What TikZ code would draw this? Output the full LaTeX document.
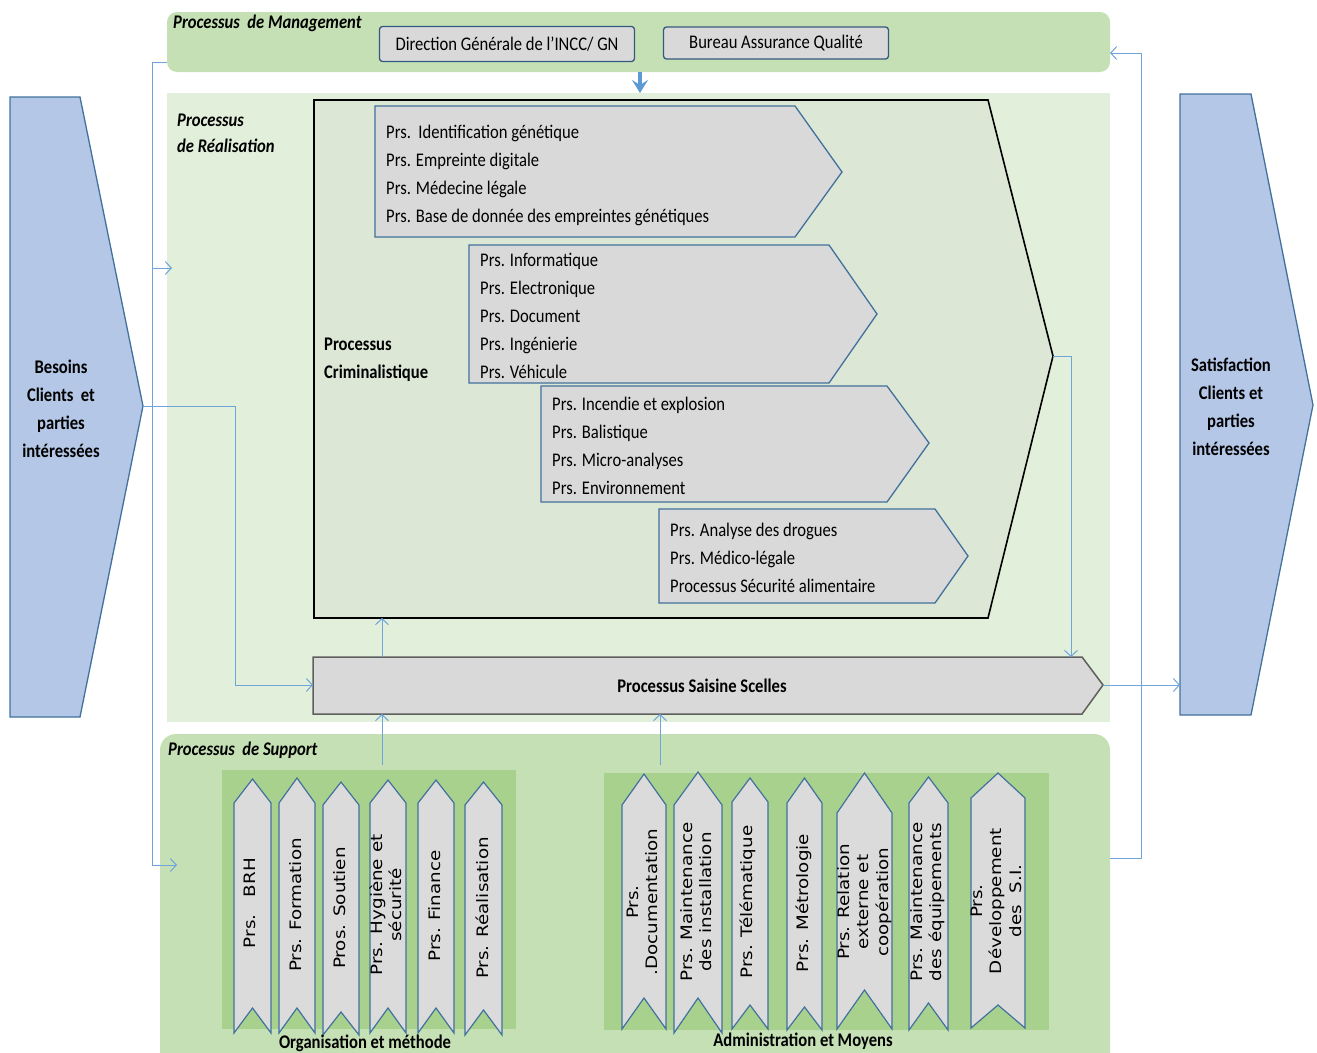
\documentclass[tikz,border=0pt]{standalone}
\usepackage{fontspec}
\usepackage{graphicx}
\setmainfont[FakeStretch=0.86]{Carlito}
\newfontfamily\chevfont{DejaVu Sans}
\usetikzlibrary{arrows.meta}
\definecolor{bandG}{HTML}{C5E0B4}
\definecolor{realG}{HTML}{E2EFDA}
\definecolor{crimG}{HTML}{DCE7D6}
\definecolor{boxGray}{HTML}{D9D9D9}
\definecolor{boxBlue}{HTML}{41719C}
\definecolor{arrBlue}{HTML}{B4C7E7}
\definecolor{grpG}{HTML}{A9D18E}
\definecolor{connC}{HTML}{6FA5DA}
\definecolor{downC}{HTML}{5B9BD5}
\definecolor{saiC}{HTML}{5F5F5F}
\newcommand\rtext[1]{\scalebox{0.86}[1]{\rotatebox{90}{\begin{tabular}{@{}c@{}}#1\end{tabular}}}}
\newcommand\vchev[6]{\draw[chevshape] (#1,#5) -- (#1,#4) -- ({(#1+#2)/2},#3) -- (#2,#4) -- (#2,#5) -- ({(#1+#2)/2},#6) -- cycle;}
\begin{document}
\begin{tikzpicture}[x=1pt,y=-1pt,
  lbl/.style={font=\fontsize{19.3}{28}\selectfont, inner sep=0pt, align=left, anchor=west},
  blbl/.style={font=\bfseries\fontsize{19.3}{28}\selectfont, inner sep=0pt, align=center},
  ilbl/.style={font=\bfseries\itshape\fontsize{19.3}{26}\selectfont, inner sep=0pt, align=left, anchor=west},
  pent/.style={draw=boxBlue, line width=1.3pt, fill=boxGray, line join=miter},
  bigarr/.style={draw=boxBlue, line width=1.3pt, fill=arrBlue},
  chevshape/.style={draw=boxBlue, line width=1.2pt, fill=boxGray!95!white},
  chevtext/.style={font=\chevfont\fontsize{18.3}{23}\selectfont, inner sep=0pt},
  mbox/.style={draw=boxBlue!80!black, line width=1.3pt, fill=boxGray, rounded corners=3pt, font=\fontsize{19.3}{23}\selectfont, inner sep=0pt},
  conn/.style={draw=connC, line width=1pt, -{Straight Barb[length=6pt,width=13pt]}},
  connplain/.style={draw=connC, line width=1pt}
]
\useasboundingbox (0,0) rectangle (1317,1052);
\begin{scope}
\clip (0,0) rectangle (1317,1052);
% bands
\fill[bandG, rounded corners=10pt] (167,12) rectangle (1110,72);
\fill[realG] (167,93) rectangle (1110,722);
\fill[bandG, rounded corners=16pt] (160,1080) -- (160,734) -- (1110,734) -- (1110,1080) -- cycle;
\fill[grpG] (222,770) rectangle (516,1029);
\fill[grpG] (604,773) rectangle (1049,1030);

% coordinates
\coordinate (mgL) at (167,62);
\coordinate (mgR) at (1110,53);
\coordinate (mgB) at (640,72);
\coordinate (realT) at (640,93);
\coordinate (lbranch) at (152,268);
\coordinate (realIn) at (172,268);
\coordinate (supIn) at (177,865);
\coordinate (supR) at (1110,858);
\coordinate (besTip) at (143,406);
\coordinate (satIn) at (1180,685);
\coordinate (crimTip) at (1053,356);
\coordinate (crimB) at (382,618);
\coordinate (saiL) at (313,685);
\coordinate (saiTip) at (1103,685);
\coordinate (saiTR) at (1071,657);
\coordinate (saiTL) at (382,657);
\coordinate (saiB1) at (382,714);
\coordinate (saiB2) at (660,714);
\coordinate (grp1T) at (382,765);
\coordinate (grp2T) at (660,765);

% labels of bands
\node[ilbl] (lmg) at (173,23) {Processus\ \ de Management};
\node[ilbl] (lreal) at (177,133) {Processus\\de Réalisation};
\node[ilbl] (lsup) at (168,750) {Processus\ \ de Support};

% management boxes
\node[mbox, minimum width=255pt, minimum height=35pt] (dg) at (507,44) {Direction Générale de l’INCC/ GN};
\node[mbox, minimum width=225pt, minimum height=32pt] (baq) at (776,43) {Bureau Assurance Qualité};

% big pentagon
\draw[line width=1.6pt, fill=crimG] (314,100) -- (988,100) -- (crimTip) -- (988,618) -- (314,618) -- cycle;
\node[blbl, align=left, anchor=west] (crim) at (324,360) {Processus\\Criminalistique};

% inner pentagons
\draw[pent] (375,106) -- (795,106) -- (842,172) -- (795,237) -- (375,237) -- cycle;
\node[lbl] (p1) at (386,175) {Prs.\ \ Identification génétique\\Prs. Empreinte digitale\\Prs. Médecine légale\\Prs. Base de donnée des empreintes génétiques};
\draw[pent] (469,245) -- (829,245) -- (877,314) -- (829,383) -- (469,383) -- cycle;
\node[lbl] (p2) at (480,316) {Prs. Informatique\\Prs. Electronique\\Prs. Document\\Prs. Ingénierie\\Prs. Véhicule};
\draw[pent] (541,386) -- (887,386) -- (929,443) -- (887,502) -- (541,502) -- cycle;
\node[lbl] (p3) at (552,446) {Prs. Incendie et explosion\\Prs. Balistique\\Prs. Micro-analyses\\Prs. Environnement};
\draw[pent] (659,509) -- (935,509) -- (968,556) -- (935,603) -- (659,603) -- cycle;
\node[lbl] (p4) at (670,558) {Prs. Analyse des drogues\\Prs. Médico-légale\\Processus Sécurité alimentaire};

% saisine
\draw[line width=1.5pt, draw=saiC, fill=boxGray] (313,657) -- (1082,657) -- (saiTip) -- (1082,714) -- (313,714) -- cycle;
\node[blbl] (sai) at (702,686) {Processus Saisine Scelles};

% side arrows
\draw[bigarr] (10,97) -- (80,97) -- (besTip) -- (80,717) -- (10,717) -- cycle;
\node[blbl] (bes) at (61,409) {Besoins\\Clients\ \ et\\parties\\intéressées};
\draw[bigarr] (1180,94) -- (1251,94) -- (1313,405) -- (1251,715) -- (1180,715) -- cycle;
\node[blbl] (sat) at (1231,407) {Satisfaction\\Clients et\\parties\\intéressées};

% support chevrons group 1
\vchev{234}{271}{779}{803}{1033}{1008}
\vchev{279}{315}{778}{803}{1033}{1008}
\vchev{323}{359}{782}{805}{1035}{1012}
\vchev{370}{406}{780}{803}{1033}{1008}
\vchev{418}{454}{780}{803}{1033}{1008}
\vchev{465}{502}{782}{805}{1035}{1010}
\node[chevtext] (s1) at (252,903) {\rtext{Prs.\ \ \ BRH}};
\node[chevtext] (s2) at (298,905) {\rtext{Prs. Formation}};
\node[chevtext] (s3) at (342,908) {\rtext{Pros. Soutien}};
\node[chevtext] (s4) at (388,905) {\rtext{Prs. Hygiène et\\sécurité}};
\node[chevtext] (s5) at (437,906) {\rtext{Prs. Finance}};
\node[chevtext] (s6) at (485,908) {\rtext{Prs. Réalisation}};
% support chevrons group 2
\vchev{622}{666}{774}{805}{1029}{998}
\vchev{674}{722}{772}{805}{1033}{998}
\vchev{732}{768}{778}{802}{1029}{1005}
\vchev{787}{822}{778}{803}{1030}{1007}
\vchev{837}{892}{773}{813}{1029}{990}
\vchev{909}{948}{777}{803}{1030}{1003}
\vchev{971}{1025}{773}{798}{1028}{1005}
\node[chevtext] (a1) at (644,902) {\rtext{Prs.\\.Documentation}};
\node[chevtext] (a2) at (698,902) {\rtext{Prs. Maintenance\\des installation}};
\node[chevtext] (a3) at (749,902) {\rtext{Prs. Télématique}};
\node[chevtext] (a4) at (805,903) {\rtext{Prs. Métrologie}};
\node[chevtext] (a5) at (865,902) {\rtext{Prs. Relation\\externe et\\coopération}};
\node[chevtext] (a6) at (928,902) {\rtext{Prs. Maintenance\\des équipements}};
\node[chevtext] (a7) at (998,901) {\rtext{Prs.\\Développement\\des\ \ S.I.}};

\node[blbl] (org) at (365,1043) {Organisation et méthode};
\node[blbl] (adm) at (803,1041) {Administration et Moyens};

% connectors
\draw[conn] (mgL) -- (152,62) -- (152,865) -- (supIn);
\draw[conn] (lbranch) -- (realIn);
\draw[conn] (besTip) -| (235,685) -- (saiL);
\draw[conn] (crimTip) -| (saiTR);
\draw[conn] (saiTip) -- (satIn);
\draw[conn] (supR) -| (1141,53) -- (mgR);
\draw[conn] (grp1T) -- (saiB1);
\draw[conn] (grp2T) -- (saiB2);
\draw[conn] (saiTL) -- (crimB);
\draw[draw=downC, line width=3.5pt, -{Stealth[length=13pt,width=16pt,inset=5pt]}] (mgB) -- (realT);
\end{scope}
\end{tikzpicture}
\end{document}
